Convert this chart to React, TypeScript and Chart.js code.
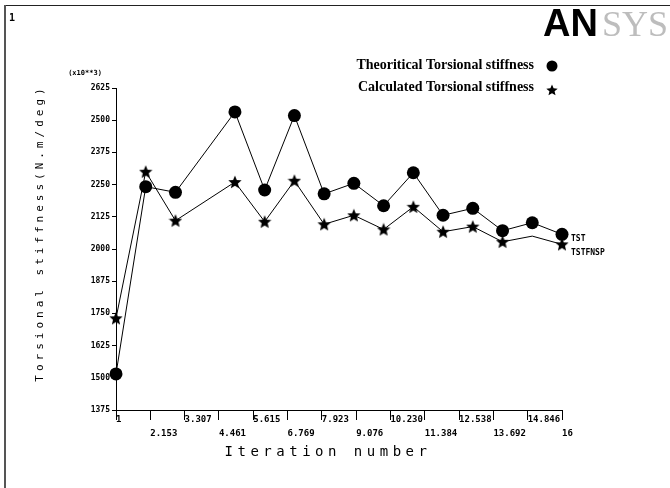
import React, { useEffect, useRef } from 'react';
import { Chart, registerables } from 'chart.js';

Chart.register(...registerables);

// ---- data ----
const ITERATIONS = [1, 2, 3, 5, 6, 7, 8, 9, 10, 11, 12, 13, 14, 15, 16];
const THEORETICAL = [1515, 2242, 2220, 2532, 2229, 2518, 2214, 2255, 2168, 2296, 2131, 2158, 2071, 2102, 2057];
const CALCULATED = [1731, 2300, 2110, 2260, 2106, 2265, 2096, 2131, 2076, 2164, 2067, 2087, 2028, 2050, 2018];
const CALC_NO_MARKER_AT = 15; // iteration whose star marker is not drawn in the reference

const X_TICK_VALUES = [1, 2.153, 3.307, 4.461, 5.615, 6.769, 7.923, 9.076, 10.23, 11.384, 12.538, 13.692, 14.846, 16];
const X_TICK_LABELS = ['1', '2.153', '3.307', '4.461', '5.615', '6.769', '7.923', '9.076', '10.230', '11.384', '12.538', '13.692', '14.846', '16'];
const Y_TICK_VALUES = [1375, 1500, 1625, 1750, 1875, 2000, 2125, 2250, 2375, 2500, 2625];
const Y_TICK_LABELS = ['1375', '1500', '1625', '1750', '1875', '2000', '2125', '2250', '2375', '2500', '2625'];

const SERIES_NAMES = ['Theoritical Torsional stiffness', 'Calculated Torsional stiffness'];
const SERIES_TAGS = ['TST', 'TSTFNSP'];
const X_TITLE = 'Iteration number';
const Y_TITLE = 'Torsional stiffness(N.m/deg)';
const Y_MULTIPLIER = '(x10**3)';
const WINDOW_NUMBER = '1';

const MONO = '"DejaVu Sans Mono", "Liberation Mono", monospace';

function makeStar(size: number): HTMLCanvasElement {
  const c = document.createElement('canvas');
  c.width = size;
  c.height = size;
  const g = c.getContext('2d')!;
  const cx = size / 2;
  const cy = size / 2 + 0.5;
  const R = size / 2;
  const r = R * 0.45;
  g.beginPath();
  for (let i = 0; i < 10; i++) {
    const ang = -Math.PI / 2 + (i * Math.PI) / 5;
    const rad = i % 2 === 0 ? R : r;
    g.lineTo(cx + rad * Math.cos(ang), cy + rad * Math.sin(ang));
  }
  g.closePath();
  g.fillStyle = '#000';
  g.fill();
  return c;
}

export default function App() {
  const ref = useRef<HTMLCanvasElement | null>(null);

  useEffect(() => {
    const canvas = ref.current;
    if (!canvas) return;
    const star = makeStar(14);
    const legendStar = makeStar(12);

    const decor = {
      id: 'ansysDecor',
      afterDraw(chart: any) {
        const ctx: CanvasRenderingContext2D = chart.ctx;
        const area = chart.chartArea;
        ctx.save();
        // frame
        ctx.fillStyle = '#222';
        ctx.fillRect(4, 5, 666, 1);
        ctx.fillStyle = '#555';
        ctx.fillRect(4, 5, 2, 483);

        // window number
        ctx.fillStyle = '#000';
        ctx.font = `bold 10px ${MONO}`;
        ctx.textAlign = 'left';
        ctx.textBaseline = 'middle';
        ctx.fillText(WINDOW_NUMBER, 9, 18);

        // logo
        ctx.textBaseline = 'alphabetic';
        ctx.font = 'bold 38px "Liberation Sans", Arial, sans-serif';
        ctx.fillStyle = '#000';
        ctx.fillText('AN', 543, 36);
        ctx.font = '36px "Liberation Serif", "Times New Roman", serif';
        ctx.fillStyle = '#bdbdbd';
        ctx.fillText('SYS', 602, 36);

        // legend
        ctx.fillStyle = '#000';
        ctx.font = 'bold 14px "Liberation Serif", "Times New Roman", serif';
        ctx.textAlign = 'right';
        ctx.textBaseline = 'middle';
        ctx.fillText(SERIES_NAMES[0], 534, 65);
        ctx.fillText(SERIES_NAMES[1], 534, 87);
        ctx.beginPath();
        ctx.arc(552, 66, 5.5, 0, Math.PI * 2);
        ctx.fill();
        ctx.drawImage(legendStar, 552 - 6, 90 - 6);

        // multiplier above the y axis
        ctx.font = `bold 7px ${MONO}`;
        ctx.textAlign = 'center';
        ctx.fillText(Y_MULTIPLIER, 85, 73);

        // series tags at the line ends
        ctx.font = `bold 8px ${MONO}`;
        ctx.textAlign = 'left';
        ctx.fillText(SERIES_TAGS[0], 571, 239);
        ctx.fillText(SERIES_TAGS[1], 571, 253);

        // axis titles (letter spaced)
        (ctx as any).letterSpacing = '4.5px';
        ctx.font = `14px ${MONO}`;
        ctx.textAlign = 'center';
        ctx.fillText(X_TITLE, 328, 452);
        (ctx as any).letterSpacing = '4px';
        ctx.font = `11px ${MONO}`;
        ctx.translate(40, 233);
        ctx.rotate(-Math.PI / 2);
        ctx.fillText(Y_TITLE, 0, 0);
        ctx.restore();
        void area;
      },
    };

    const chart = new Chart(canvas, {
      type: 'line',
      data: {
        datasets: [
          {
            label: SERIES_NAMES[0],
            data: ITERATIONS.map((x, i) => ({ x, y: THEORETICAL[i] })),
            borderColor: '#000',
            backgroundColor: '#000',
            borderWidth: 1,
            pointStyle: 'circle',
            pointRadius: 6.5,
            pointBorderWidth: 0,
            tension: 0,
            clip: false as any,
          },
          {
            label: SERIES_NAMES[1],
            data: ITERATIONS.map((x, i) => ({ x, y: CALCULATED[i] })),
            borderColor: '#000',
            backgroundColor: '#000',
            borderWidth: 1,
            pointStyle: star as any,
            pointRadius: (c: any) => (ITERATIONS[c.dataIndex] === CALC_NO_MARKER_AT ? 0 : 6),
            tension: 0,
            clip: false as any,
          },
        ],
      },
      options: {
        responsive: false,
        animation: false,
        devicePixelRatio: 1,
        layout: { padding: { left: 0, top: 88, right: 108, bottom: 0 } },
        plugins: { legend: { display: false }, tooltip: { enabled: false } },
        scales: {
          x: {
            type: 'linear',
            min: 1,
            max: 16,
            afterBuildTicks: (scale: any) => {
              scale.ticks = X_TICK_VALUES.map((v) => ({ value: v }));
            },
            afterFit: (scale: any) => {
              scale.height = 78;
            },
            ticks: {
              autoSkip: false,
              maxRotation: 0,
              minRotation: 0,
              align: 'start',
              padding: -7,
              color: '#000',
              font: { family: MONO, size: 9, weight: 'bold', lineHeight: 14 / 9 },
              callback: (_v: any, i: number) => (i % 2 === 0 ? [X_TICK_LABELS[i], ''] : ['', X_TICK_LABELS[i]]),
            },
            grid: { drawOnChartArea: false, drawTicks: true, tickLength: 10, color: '#000' },
            border: { display: true, color: '#000', width: 1 },
          },
          y: {
            type: 'linear',
            min: 1375,
            max: 2625,
            afterBuildTicks: (scale: any) => {
              scale.ticks = Y_TICK_VALUES.map((v) => ({ value: v }));
            },
            afterFit: (scale: any) => {
              scale.width = 116;
            },
            ticks: {
              autoSkip: false,
              padding: 2,
              color: '#000',
              font: { family: MONO, size: 8, weight: 'bold' },
              callback: (_v: any, i: number) => Y_TICK_LABELS[i],
            },
            grid: { drawOnChartArea: false, drawTicks: true, tickLength: 4, color: '#000' },
            border: { display: true, color: '#000', width: 1 },
          },
        },
      },
      plugins: [decor],
    } as any);

    return () => chart.destroy();
  }, []);

  return (
    <div style={{ position: 'fixed', left: 0, top: 0, width: 670, height: 488, background: '#fff' }}>
      <canvas ref={ref} width={670} height={488} style={{ display: 'block', width: 670, height: 488 }} />
    </div>
  );
}
